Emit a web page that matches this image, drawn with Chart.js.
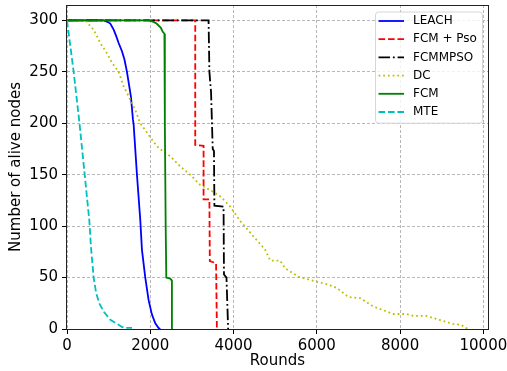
<!DOCTYPE html>
<html>
<head>
<meta charset="utf-8">
<script src="https://cdn.jsdelivr.net/npm/chart.js@4.4.0/dist/chart.umd.min.js"></script>
<style>
  html, body { margin: 0; padding: 0; background: #fff; }
</style>
</head>
<body>
<canvas id="chart-alive-nodes" width="507" height="371"></canvas>
<script>
// values
const leachRounds = [0, 880, 1000, 1040, 1120, 1180, 1240, 1320, 1380, 1440, 1535, 1583, 1600, 1680, 1760, 1800, 1880, 1960, 2040, 2120, 2200, 2240]
const leachAlive = [300, 300, 298, 297, 291, 285, 278, 270, 262, 250, 226, 204, 199, 150, 106, 77, 50, 28, 14, 5.5, 1, 0]

const fcmPsoRounds = [0, 3080, 3080, 3280, 3280, 3420, 3430, 3580, 3600]
const fcmPsoAlive = [300, 300, 179, 178, 126, 126, 66, 64, 0]

const fcmmpsoRounds = [0, 3400, 3420, 3460, 3500, 3530, 3540, 3760, 3770, 3830, 3870]
const fcmmpsoAlive = [300, 300, 250, 230, 175, 173, 120, 119, 53, 50, 0]

const dcRounds = [0, 440, 640, 800, 960, 1080, 1240, 1360, 1520, 1640, 1760, 1920, 2080, 2200, 2400, 2480, 2720, 2960, 3200, 3440, 3680, 3920, 4160, 4480, 4760, 4880, 5120, 5240, 5550, 6000, 6280, 6480, 6760, 7040, 7350, 7680, 7840, 8150, 8310, 8630, 8950, 9270, 9470, 9630]
const dcAlive = [300, 300, 291, 278, 268, 259, 250, 236, 223, 213, 200, 191, 182, 176, 170, 168, 158, 150, 140, 135, 129, 119, 105, 90, 77, 66.5, 66.5, 59, 51, 46, 43, 40, 31, 30, 22, 17, 14.6, 14.6, 12.7, 12.7, 8.8, 4.9, 3.9, 0]

const fcmRounds = [0, 1950, 2050, 2150, 2250, 2300, 2340, 2350, 2370, 2385, 2480, 2520, 2520]
const fcmAlive = [300, 300, 299, 297, 293, 289, 287, 200, 100, 50, 49, 47, 0]

const mteRounds = [0, 160, 300, 425, 500, 535, 575, 640, 700, 775, 880, 1040, 1200, 1320, 1400, 1560]
const mteAlive = [300, 250, 200, 150, 120, 106, 80, 50, 35, 25, 17, 9, 5, 2, 1, 1]

const seriesNames = ['LEACH', 'FCM + Pso', 'FCMMPSO', 'DC', 'FCM', 'MTE']
const seriesRounds = [leachRounds, fcmPsoRounds, fcmmpsoRounds, dcRounds, fcmRounds, mteRounds]
const seriesAlive = [leachAlive, fcmPsoAlive, fcmmpsoAlive, dcAlive, fcmAlive, mteAlive]

const xTicks = [0, 2000, 4000, 6000, 8000, 10000]
const yTicks = [0, 50, 100, 150, 200, 250, 300]
const xMax = 10111
const yMax = 315

const lw = 1.8
const seriesStyles = [
  { color: 'rgb(0,0,255)', dash: [] },
  { color: 'rgb(255,0,0)', dash: [6.6, 2.9] },
  { color: 'rgb(0,0,0)', dash: [11.5, 2.9, 1.8, 2.9] },
  { color: 'rgb(191,191,0)', dash: [1.8, 2.9] },
  { color: 'rgb(0,128,0)', dash: [] },
  { color: 'rgb(0,191,191)', dash: [6.6, 2.9] }
]

Chart.defaults.font.family = "'DejaVu Sans', sans-serif"
Chart.defaults.color = '#000'

const datasets = seriesNames.map((name, i) => ({
  label: name,
  data: seriesRounds[i].map((r, j) => ({ x: r, y: seriesAlive[i][j] })),
  borderColor: seriesStyles[i].color,
  backgroundColor: seriesStyles[i].color,
  borderDash: seriesStyles[i].dash,
  borderWidth: lw,
  pointRadius: 0,
  tension: 0,
  fill: false,
  // later series sit on top, like the reference
  order: seriesNames.length - i
}))

// axes frame + matplotlib-like legend box
const frameAndLegend = {
  id: 'frameAndLegend',
  afterDatasetsDraw(chart) {
    const { ctx, chartArea } = chart
    ctx.save()
    ctx.strokeStyle = '#222'
    ctx.lineWidth = 1
    ctx.setLineDash([])
    const l = Math.round(chartArea.left) - 0.5
    const t = Math.round(chartArea.top) + 0.5
    const r = Math.round(chartArea.right) + 0.5
    const b = Math.round(chartArea.bottom) + 0.5
    ctx.strokeRect(l, t, r - l, b - t)

    const rowH = 18.2
    const w = 107
    const h = seriesNames.length * rowH + 2
    const x0 = chartArea.right - 6 - w
    const y0 = chartArea.top + 6.5
    ctx.beginPath()
    ctx.roundRect(x0 + 0.5, y0 + 0.5, w, h, 3)
    ctx.fillStyle = 'rgba(255,255,255,0.8)'
    ctx.fill()
    ctx.strokeStyle = '#d6d6d6'
    ctx.stroke()

    ctx.font = "12px 'DejaVu Sans'"
    ctx.textBaseline = 'middle'
    ctx.textAlign = 'left'
    chart.data.datasets.forEach((ds, i) => {
      const cy = y0 + 9.5 + i * rowH
      ctx.beginPath()
      ctx.setLineDash(ds.borderDash)
      ctx.strokeStyle = ds.borderColor
      ctx.lineWidth = ds.borderWidth
      ctx.moveTo(x0 + 3.5, cy)
      ctx.lineTo(x0 + 29, cy)
      ctx.stroke()
      ctx.setLineDash([])
      ctx.fillStyle = '#000'
      ctx.fillText(ds.label, x0 + 38, cy)
    })
    ctx.restore()
  }
}

const gridStyle = {
  color: '#b8b8b8',
  lineWidth: 1,
  drawTicks: true,
  tickLength: 5,
  tickColor: '#000',
  tickWidth: 1,
  tickBorderDash: []
}

new Chart(document.getElementById('chart-alive-nodes').getContext('2d'), {
  type: 'line',
  data: { datasets },
  options: {
    responsive: false,
    animation: false,
    devicePixelRatio: 1,
    layout: { padding: { left: 0, right: 19, top: 5, bottom: 0 } },
    plugins: {
      legend: { display: false },
      tooltip: { enabled: false }
    },
    scales: {
      x: {
        type: 'linear',
        min: 0,
        max: xMax,
        grid: gridStyle,
        border: { display: false, dash: [3, 2] },
        ticks: { padding: 3, maxRotation: 0, font: { size: 15 }, callback: v => String(v) },
        afterBuildTicks: scale => { scale.ticks = xTicks.map(v => ({ value: v })) },
        title: { display: true, text: 'Rounds', font: { size: 15 }, padding: { top: 0, bottom: 0.5 } },
        afterFit: scale => {
          scale.height = 42
          scale.paddingLeft = 0
          scale.paddingRight = 0
        }
      },
      y: {
        type: 'linear',
        min: 0,
        max: yMax,
        grid: gridStyle,
        border: { display: false, dash: [3, 2] },
        ticks: { padding: 4, font: { size: 15 }, callback: v => String(v) },
        afterBuildTicks: scale => { scale.ticks = yTicks.map(v => ({ value: v })) },
        title: { display: true, text: 'Number of alive nodes', font: { size: 15 }, padding: { top: 7.5, bottom: 0 } },
        afterFit: scale => {
          scale.width = 67
          scale.paddingTop = 0
          scale.paddingBottom = 0
        }
      }
    }
  },
  plugins: [frameAndLegend]
})
</script>
</body>
</html>
